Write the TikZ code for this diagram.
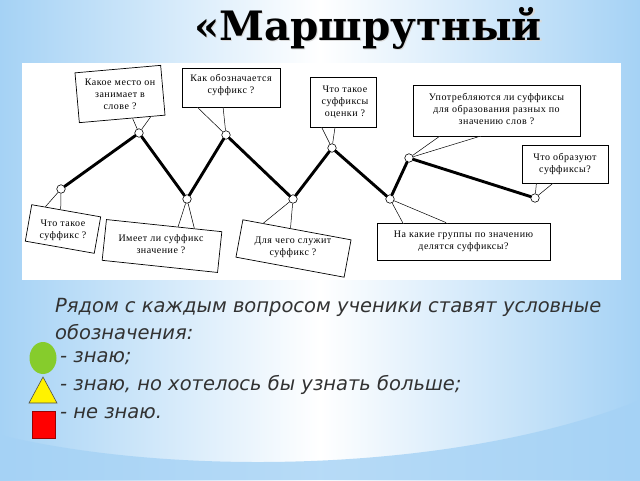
\documentclass[tikz,border=0pt]{standalone}
\usepackage{fontspec}
\setmainfont{Liberation Serif}
\newfontfamily\titlefont{DejaVu Serif}
\newfontfamily\qfont[LetterSpace=5]{Liberation Serif}
\newfontfamily\bodyfont{DejaVu Sans}
\usetikzlibrary{calc}
\definecolor{bgb}{RGB}{165,210,245}
\definecolor{bodygray}{RGB}{50,50,50}
\definecolor{legendgreen}{RGB}{134,204,44}
\newcommand\calltail[5]{%
  \coordinate (t1) at ($(#1.#2 west)!#3!(#1.#2 east)$);
  \coordinate (t2) at ($(#1.#2 west)!#4!(#1.#2 east)$);
  \fill[white] ($(t1)!-1.5pt!(#5)$) -- (#5) -- ($(t2)!-1.5pt!(#5)$) -- cycle;
  \draw[tailline] (t1) -- (#5) -- (t2);}
\begin{document}
\begin{tikzpicture}[x=1pt,y=-1pt,
  callbox/.style={draw=black, fill=white, line width=0.7pt, inner sep=0pt},
  qtext/.style={font=\qfont\fontsize{10}{12}\selectfont, align=center, inner sep=0pt},
  tailline/.style={line width=0.5pt},
  waypt/.style={circle, draw=black, fill=white, line width=0.6pt, minimum size=8.5pt, inner sep=0pt},
  route/.style={line width=2.9pt, line cap=round},
  bodytxt/.style={font=\bodyfont\itshape\fontsize{19.5}{22}\selectfont, text=bodygray, inner sep=0pt, anchor=west}]
\useasboundingbox (0,0) rectangle (640,480);
% slide background
\shade[left color=bgb, right color=bgb, middle color=white] (0,0) rectangle (640,480);
\fill[bgb, opacity=0.8] (0,480) -- (0,435) .. controls (180,478) and (460,472) .. (640,400) -- (640,480) -- cycle;
% title
\node[font=\titlefont\bfseries\fontsize{40.5}{44}\selectfont, text=black!15, inner sep=0pt] at (369.2,29.2) {«Маршрутный};
\node[font=\titlefont\bfseries\fontsize{40.5}{44}\selectfont, inner sep=0pt] (title) at (368,28) {«Маршрутный};
% diagram picture
\fill[white] (22,63) rectangle (621,280);
% waypoints
\node[waypt] (p1) at (61,189) {};
\node[waypt] (p2) at (139,133) {};
\node[waypt] (p3) at (187,199) {};
\node[waypt] (p4) at (226,135) {};
\node[waypt] (p5) at (293,199) {};
\node[waypt] (p6) at (332,148) {};
\node[waypt] (p7) at (390,199) {};
\node[waypt] (p8) at (409,158) {};
\node[waypt] (p9) at (535,198) {};
\draw[route] (p1) -- (p2) -- (p3) -- (p4) -- (p5) -- (p6) -- (p7) -- (p8) -- (p9);
% boxes
\node[callbox, rotate=5, minimum width=86pt, minimum height=50pt] (ba) at (120,94) {};
\node[qtext] (ta) at (120,94) {Какое место он\\занимает в\\слове ?};
\calltail{ba}{south}{0.62}{0.83}{p2}
\node[callbox, minimum width=98pt, minimum height=39pt] (bb) at (231,87.5) {};
\node[qtext] (tb) at (231,85) {Как обозначается\\суффикс ?};
\calltail{bb}{south}{0.16}{0.42}{p4}
\node[callbox, minimum width=66pt, minimum height=50pt] (bc) at (343,102) {};
\node[qtext] (tc) at (345,102) {Что такое\\суффиксы\\оценки ?};
\calltail{bc}{south}{0.18}{0.38}{p6}
\node[callbox, minimum width=167pt, minimum height=51pt] (bd) at (496.5,110.5) {};
\node[qtext] (td) at (496.5,109) {Употребляются ли суффиксы\\для образования разных по\\значению слов ?};
\calltail{bd}{south}{0.16}{0.40}{p8}
\node[callbox, minimum width=86pt, minimum height=38pt] (be) at (565,164) {};
\node[qtext] (te) at (565,164) {Что образуют\\суффиксы?};
\calltail{be}{south}{0.17}{0.36}{p9}
\node[callbox, rotate=-10, minimum width=70pt, minimum height=37pt] (bf) at (63,229) {};
\node[qtext] (tf) at (63,230) {Что такое\\суффикс ?};
\calltail{bf}{north}{0.2}{0.42}{p1}
\node[callbox, rotate=-6, minimum width=116pt, minimum height=41pt] (bg) at (162,246) {};
\node[qtext] (tg) at (161,244) {Имеет ли суффикс\\значение ?};
\calltail{bg}{north}{0.62}{0.76}{p3}
\node[callbox, rotate=-10.5, minimum width=110pt, minimum height=38pt] (bh) at (293.5,248.5) {};
\node[qtext] (th) at (293,247) {Для чего служит\\суффикс ?};
\calltail{bh}{north}{0.19}{0.44}{p5}
\node[callbox, minimum width=173pt, minimum height=37pt] (bi) at (463.5,241.5) {};
\node[qtext] (ti) at (463.5,241.5) {На какие группы по значению\\делятся суффиксы?};
\calltail{bi}{north}{0.15}{0.40}{p7}
% legend text
\node[bodytxt] (l1) at (55,307) {Рядом с каждым вопросом ученики ставят условные};
\node[bodytxt] (l2) at (55,332) {обозначения:};
\node[bodytxt] (l3) at (60,358) {- знаю;};
\node[bodytxt] (l4) at (60,385) {- знаю, но хотелось бы узнать больше;};
\node[bodytxt] (l5) at (60,413) {- не знаю.};
% legend symbols
\fill[legendgreen] (43,358) ellipse [x radius=13.5, y radius=16];
\filldraw[fill=yellow, draw=black!70, line width=0.6pt] (43,377) -- (57,403) -- (29,403) -- cycle;
\filldraw[fill=red, draw=red!60!black, line width=0.6pt] (32,411) rectangle (55,438);
\end{tikzpicture}
\end{document}
